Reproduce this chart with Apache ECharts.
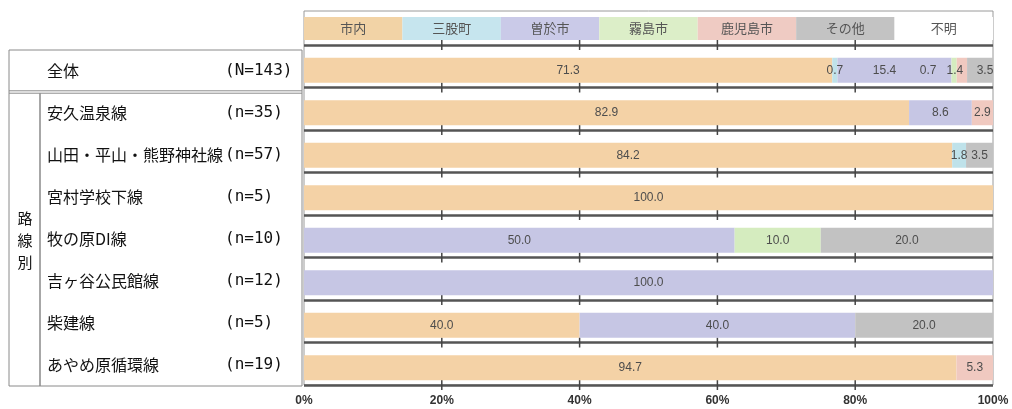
<!DOCTYPE html>
<html><head><meta charset="utf-8">
<script src="https://cdn.jsdelivr.net/npm/echarts@6/dist/echarts.min.js"></script>
<style>html,body{margin:0;padding:0;background:#fff}#c{width:1012px;height:409px}</style>
</head><body><div id="c"></div>
<script>
// 利用者の行先（路線別）— 各行の構成比（％）
const destinations = ['市内', '三股町', '曽於市', '霧島市', '鹿児島市', 'その他', '不明'];
const routes = ['全体', '安久温泉線', '山田・平山・熊野神社線', '宮村学校下線', '牧の原DI線', '吉ヶ谷公民館線', '柴建線', 'あやめ原循環線'];
const sampleSizes = ['(N=143)', '(n=35)', '(n=57)', '(n=5)', '(n=10)', '(n=12)', '(n=5)', '(n=19)'];
const groupLabel = '路線別';

const shinai    = [71.3, 82.9, 84.2, 100.0, null, null, 40.0, 94.7];
const mimata    = [0.7, null, 1.8, null, null, null, null, null];
const soo       = [15.4, 8.6, null, null, 50.0, 100.0, 40.0, null];
const kirishima = [0.7, null, null, null, 10.0, null, null, null];
const kagoshima = [1.4, 2.9, null, null, null, null, null, 5.3];
const sonota    = [3.5, null, 3.5, null, 20.0, null, 20.0, null];
const fumei     = [null, null, null, null, null, null, null, null];

const xTicks = [0, 20, 40, 60, 80, 100];

const seriesValues = [shinai, mimata, soo, kirishima, kagoshima, sonota, fumei];
const barColors = ['#F4D2A6', '#BFE2EA', '#C6C6E4', '#D5ECBF', '#F0C9C0', '#C2C2C2', '#FFFFFF'];
const keyColors = ['#F2D3A6', '#C6E5EE', '#CACAE8', '#DCEEC8', '#EFCBC3', '#C3C3C3', '#FFFFFF'];

// 100% stacked: every row is scaled to its own total
const rowTotals = routes.map((_, i) => seriesValues.reduce((s, arr) => s + (arr[i] || 0), 0));

// spread the crowded labels of the first row
const firstRowLabelShift = { 2: [-10, 0], 3: [-26, 0], 4: [-7, 0], 5: [5, 0] };

const PLOT_L = 304, PLOT_R = 19;
const RULE_TOP = 45, ROW_H = 42.5;
const BAR_TOP = RULE_TOP + 4;
const TBL_L = 9, TBL_W = 293, TBL_TOP = 50, TBL_ROW = 42;

const chart = echarts.init(document.getElementById('c'), null, { renderer: 'canvas' });

const barSeries = destinations.map((name, si) => ({
  name,
  type: 'bar',
  stack: 'share',
  xAxisIndex: 0, yAxisIndex: 0,
  barWidth: 25,
  itemStyle: { color: barColors[si] },
  label: {
    show: true,
    position: 'inside',
    color: '#4d4d4d',
    fontSize: 12,
    fontFamily: 'Liberation Sans',
    formatter: p => p.data.raw.toFixed(1)
  },
  data: seriesValues[si].map((v, ri) => {
    if (v == null) return null;
    const item = { value: v / rowTotals[ri] * 100, raw: v };
    if (ri === 0 && firstRowLabelShift[si]) item.label = { offset: firstRowLabelShift[si] };
    return item;
  })
}));

const keySeries = destinations.map((name, si) => ({
  name: name + ' ',
  type: 'bar',
  stack: 'key',
  xAxisIndex: 2, yAxisIndex: 2,
  barCategoryGap: '0%',
  itemStyle: { color: keyColors[si] },
  label: {
    show: true, position: 'inside', color: '#555',
    fontSize: 13, fontFamily: 'Noto Sans CJK JP',
    formatter: () => name
  },
  silent: true,
  data: [1]
}));

const ruleRows = routes.map((_, i) => i).concat([routes.length]);

const tickSeries = {
  type: 'custom',
  xAxisIndex: 1, yAxisIndex: 1,
  silent: true,
  data: ruleRows,
  renderItem: (params, api) => {
    const b = api.value(0);
    const children = xTicks.slice(1, -1).map(t => {
      const p = api.coord([t, b]);
      return {
        type: 'line',
        shape: { x1: p[0], y1: p[1] - 5, x2: p[0], y2: p[1] + 5 },
        style: { stroke: '#444', lineWidth: 1.5 }
      };
    });
    return { type: 'group', children };
  }
};

const option = {
  backgroundColor: '#fff',
  animation: false,
  grid: [
    { left: PLOT_L, right: PLOT_R, top: BAR_TOP, height: ROW_H * 8 },
    { left: PLOT_L, right: PLOT_R, top: RULE_TOP, height: ROW_H * 8 },
    { left: PLOT_L, right: PLOT_R, top: 17, height: 23 },
    { left: TBL_L, width: TBL_W, top: TBL_TOP, height: TBL_ROW * 8, show: true, borderColor: '#8a8a8a', borderWidth: 1 },
    { left: PLOT_L, right: PLOT_R, top: 11, height: RULE_TOP - 11 + ROW_H * 8, show: true, borderColor: '#9a9a9a', borderWidth: 1 }
  ],
  xAxis: [
    {
      gridIndex: 0, type: 'value', min: 0, max: 100, interval: 20,
      axisLine: { show: false }, axisTick: { show: false }, splitLine: { show: false },
      axisLabel: {
        formatter: '{value}%', color: '#333', fontSize: 12, fontWeight: 'bold',
        fontFamily: 'Liberation Sans Narrow, Liberation Sans', margin: 6
      }
    },
    { gridIndex: 1, type: 'value', min: 0, max: 100, show: false },
    { gridIndex: 2, type: 'value', min: 0, max: destinations.length, show: false },
    { gridIndex: 3, type: 'value', min: 0, max: 1, show: false },
    { gridIndex: 4, type: 'value', min: 0, max: 1, show: false }
  ],
  yAxis: [
    { gridIndex: 0, type: 'category', data: routes, inverse: true, show: false },
    {
      gridIndex: 1, type: 'value', min: 0, max: routes.length, interval: 1, inverse: true,
      axisLine: { show: false }, axisTick: { show: false }, axisLabel: { show: false },
      splitLine: { show: true, lineStyle: { color: '#555', width: 2.5 } }
    },
    { gridIndex: 2, type: 'category', data: [''], show: false },
    {
      gridIndex: 3, type: 'category', data: routes, inverse: true,
      axisLine: { show: false }, axisTick: { show: false }, splitLine: { show: false },
      axisLabel: {
        inside: true, margin: 38,
        formatter: (v, i) => '{a|' + v + '}{b|' + sampleSizes[i] + '}',
        rich: {
          a: { width: 178, fontSize: 16, color: '#111', fontFamily: 'Noto Sans CJK JP' },
          b: { fontSize: 16, color: '#111', fontFamily: 'DejaVu Sans Mono' }
        }
      }
    },
    { gridIndex: 4, type: 'value', show: false }
  ],
  graphic: [
    { type: 'line', shape: { x1: TBL_L, y1: TBL_TOP + TBL_ROW - 1.2, x2: TBL_L + TBL_W, y2: TBL_TOP + TBL_ROW - 1.2 }, style: { stroke: '#8a8a8a', lineWidth: 1 } },
    { type: 'line', shape: { x1: TBL_L, y1: TBL_TOP + TBL_ROW + 1.2, x2: TBL_L + TBL_W, y2: TBL_TOP + TBL_ROW + 1.2 }, style: { stroke: '#8a8a8a', lineWidth: 1 } },
    { type: 'line', shape: { x1: 40, y1: TBL_TOP + TBL_ROW + 1.2, x2: 40, y2: TBL_TOP + TBL_ROW * 8 }, style: { stroke: '#8a8a8a', lineWidth: 1.5 } },
    {
      type: 'text', x: 25, y: 240,
      style: {
        text: groupLabel.split('').join('\n'), fill: '#111', fontSize: 15,
        fontFamily: 'Noto Sans CJK JP', lineHeight: 22, align: 'center', verticalAlign: 'middle'
      }
    }
  ],
  series: barSeries.concat(keySeries, [tickSeries])
};

chart.setOption(option);
</script>
</body></html>
